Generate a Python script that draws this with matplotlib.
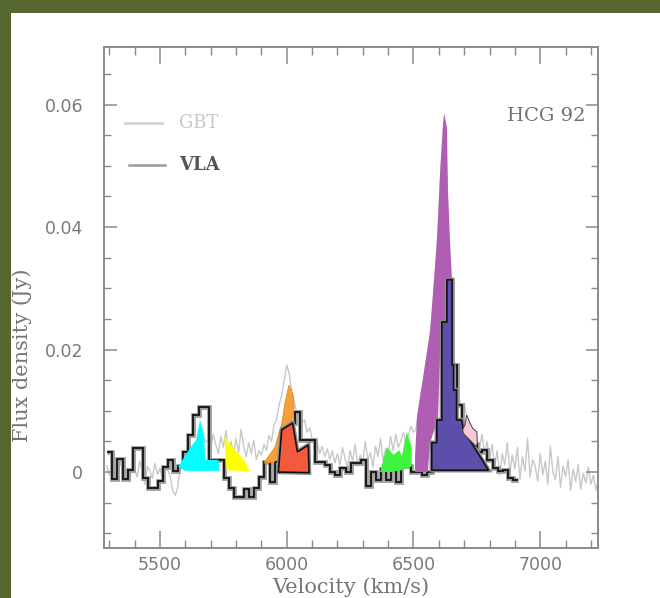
import numpy as np
import matplotlib
matplotlib.use("Agg")
import matplotlib.pyplot as plt
from matplotlib.patches import Rectangle
from matplotlib.ticker import MultipleLocator
import matplotlib.patheffects as pe

# ---------------- data ----------------
# GBT spectrum: 10 km/s sampling starting at 5290 km/s
gbt_v0, gbt_dv = 5290, 10
gbt_flux = [
    0.0010, -0.0005, 0.0015, 0.0002, -0.0012, 0.0008, 0.0020, -0.0003, 0.0006, -0.0015, 0.0012,
    0.0004, -0.0008, 0.0018, 0.0001, -0.0020, 0.0009, 0.0002, -0.0010, 0.0014, -0.0004,
    0.0006, -0.0012, 0.0010, 0.0003, -0.0006, -0.0030, -0.0038, -0.0025, 0.0012, 0.0008,
    0.0020, 0.0030, 0.0018, 0.0040, 0.0035, 0.0050, 0.0042, 0.0060, 0.0048, 0.0055,
    0.0038, 0.0062, 0.0045, 0.0030, 0.0058, 0.0040, 0.0068, 0.0035, 0.0050, 0.0028,
    0.0055, 0.0032, 0.0070, 0.0042, 0.0025, 0.0048, 0.0030, 0.0052, 0.0020, 0.0035,
    0.0028, 0.0045, 0.0035, 0.0060, 0.0050, 0.0078, 0.0085, 0.0110, 0.0125, 0.0150,
    0.0175, 0.0160, 0.0130, 0.0115, 0.0095, 0.0100, 0.0080, 0.0085, 0.0065, 0.0072,
    0.0055, 0.0040, 0.0048, 0.0030, 0.0042, 0.0025, 0.0038, 0.0020, 0.0035, 0.0015,
    0.0030, 0.0012, 0.0040, 0.0022, 0.0008, 0.0035, 0.0018, 0.0045, 0.0010, 0.0028,
    0.0015, 0.0050, 0.0020, 0.0032, 0.0008, 0.0042, 0.0025, 0.0055, 0.0018, 0.0038,
    0.0030, 0.0058, 0.0035, 0.0062, 0.0040, 0.0050, 0.0065, 0.0045, 0.0060, 0.0075,
    0.0065, 0.0070, 0.0100, 0.0130, 0.0150, 0.0180, 0.0210, 0.0240, 0.0290, 0.0350,
    0.0420, 0.0510, 0.0570, 0.0500, 0.0360, 0.0260, 0.0180, 0.0140, 0.0120, 0.0105,
    0.0112, 0.0090, 0.0080, 0.0065, 0.0055, 0.0048, 0.0035, 0.0062, 0.0030, 0.0050,
    0.0020, 0.0045, 0.0008, 0.0035, -0.0005, 0.0030, 0.0012, 0.0048, -0.0002, 0.0028,
    0.0005, 0.0040, -0.0012, 0.0025, 0.0002, 0.0055, -0.0008, 0.0020, 0.0010, -0.0015,
    0.0030, -0.0005, 0.0018, -0.0020, 0.0042, 0.0000, -0.0012, 0.0025, -0.0025, 0.0010,
    -0.0008, 0.0020, -0.0030, 0.0005, -0.0015, 0.0012, -0.0028, -0.0002, -0.0018, 0.0008,
    -0.0020, -0.0005, -0.0030, -0.0012,
]

# VLA spectrum: 20 km/s channels, first edge at 5292 km/s
vla_v0, vla_dv = 5292, 20
vla_flux = [
    0.0033, -0.0012, 0.0022, -0.0012, 0.0004, 0.0040, 0.0040, -0.0010, -0.0026, -0.0026,
    -0.0015, 0.0008, 0.0020, 0.0002, 0.0010, 0.0033, 0.0060, 0.0093, 0.0107, 0.0107,
    0.0020, 0.0020, 0.0020, -0.0010, -0.0026, -0.0040, -0.0040, -0.0028, -0.0040, -0.0026,
    -0.0008, 0.0016, -0.0016, 0.0016, 0.0025, 0.0060, 0.0080, 0.0098, 0.0052, 0.0052,
    0.0052, 0.0016, 0.0016, 0.0011, 0.0000, -0.0005, 0.0007, 0.0000, 0.0015, 0.0015,
    0.0020, -0.0022, 0.0000, -0.0013, 0.0005, -0.0013, 0.0010, -0.0016, 0.0023, 0.0010,
    0.0000, 0.0000, -0.0004, 0.0000, 0.0048, 0.0085, 0.0245, 0.0314, 0.0175, 0.0110,
    0.0075, 0.0060, 0.0045, 0.0032, 0.0036, 0.0020, 0.0006, 0.0002, 0.0004, -0.0010,
    -0.0013,
]

# coloured component regions (velocity, flux) vertices
cyan_v = [5572, 5618, 5642, 5658, 5674, 5678, 5730, 5734, 5599]
cyan_f = [0.0009, 0.0039, 0.0052, 0.0085, 0.0060, 0.0020, 0.0020, 0.0002, 0.0002]

yellow_v = [5754, 5762, 5855, 5835]
yellow_f = [0.0057, 0.0003, 0.0001, 0.0018]

orange_v = [5910, 5954, 5981, 5993, 6009, 6025, 6029, 6017, 5981, 5970, 5946]
orange_f = [0.0015, 0.0041, 0.0080, 0.0113, 0.0142, 0.0126, 0.0106, 0.0077, 0.0049, 0.0023, 0.0016]

red_v = [5967, 5980, 6023, 6042, 6085, 6088]
red_f = [0.0000, 0.0069, 0.0080, 0.0033, 0.0044, -0.0001]

green_v = [6368, 6395, 6421, 6444, 6454, 6473, 6493, 6493, 6454, 6408]
green_f = [0.0000, 0.0041, 0.0028, 0.0036, 0.0025, 0.0066, 0.0041, 0.0009, 0.0003, 0.0000]

purple_v = [6506, 6506, 6514, 6538, 6565, 6593, 6605, 6617, 6621, 6632, 6636, 6644, 6652,
            6640, 6609, 6597, 6565, 6557]
purple_f = [0.0000, 0.0024, 0.0090, 0.0155, 0.0227, 0.0379, 0.0488, 0.0570, 0.0586, 0.0563,
            0.0460, 0.0379, 0.0314, 0.0250, 0.0245, 0.0088, 0.0047, 0.0000]

blue_v = [6572, 6572, 6592, 6592, 6612, 6612, 6632, 6632, 6652, 6652, 6658, 6658, 6670,
          6670, 6690, 6697, 6796]
blue_f = [0.0003, 0.0048, 0.0048, 0.0085, 0.0085, 0.0245, 0.0245, 0.0314, 0.0314, 0.0175,
          0.0175, 0.0134, 0.0134, 0.0085, 0.0085, 0.0069, 0.0003]

pink_v = [6710, 6723, 6734, 6750, 6752, 6747, 6723, 6697, 6694, 6703]
pink_f = [0.0093, 0.0080, 0.0071, 0.0066, 0.0047, 0.0042, 0.0052, 0.0063, 0.0069, 0.0077]

x_ticks = [5500, 6000, 6500, 7000]
y_ticks = [0, 0.02, 0.04, 0.06]
y_ticklabels = ["0", "0.02", "0.04", "0.06"]

# ---------------- figure ----------------
W, H = 660, 598
fig = plt.figure(figsize=(W / 100, H / 100), dpi=100)
fig.patch.set_facecolor("#56662f")
fig.patches.append(Rectangle((11 / W, 0), 1 - 11 / W, 1 - 13 / H, transform=fig.transFigure,
                             facecolor="white", edgecolor="none", zorder=-5))

ax = fig.add_axes([104 / W, 1 - 548 / H, (598 - 104) / W, (548 - 47) / H])
ax.set_zorder(2)
ax.set_facecolor("white")

gbt_v = gbt_v0 + gbt_dv * np.arange(len(gbt_flux))
ax.plot(gbt_v, gbt_flux, color="#c8c8c8", lw=1.0, zorder=1)

vla_edges = vla_v0 + vla_dv * np.arange(len(vla_flux) + 1)
ax.stairs(vla_flux, vla_edges, baseline=None, color="#9a9a9a", lw=3.4, zorder=2)
ax.stairs(vla_flux, vla_edges, baseline=None, color="#111111", lw=1.3, zorder=2.1)

halo = [pe.withStroke(linewidth=3.2, foreground="#8a8a8a")]
ax.fill(cyan_v, cyan_f, color="#00ffff", lw=0, zorder=3)
ax.fill(yellow_v, yellow_f, color="#ffff00", lw=0, zorder=3)
ax.fill(orange_v, orange_f, facecolor="#f7a03a", edgecolor="#e88a20", lw=0.6, zorder=3)
p = ax.fill(red_v, red_f, facecolor="#f35a3c", edgecolor="#111111", lw=1.2, zorder=3.2)
for q in p:
    q.set_path_effects(halo)
ax.fill(green_v, green_f, color="#3ef23e", lw=0, zorder=3)
ax.fill(purple_v, purple_f, color="#b05db4", lw=0, zorder=3)
p = ax.fill(blue_v, blue_f, facecolor="#5b4fab", edgecolor="#111111", lw=1.2, zorder=3.3)
for q in p:
    q.set_path_effects(halo)
ax.fill(pink_v, pink_f, facecolor="#f8c8d4", edgecolor="#444444", lw=0.7, zorder=3.4)

ax.set_xlim(5279, 7228)
ax.set_ylim(-0.0124, 0.0694)
ax.set_xticks(x_ticks)
ax.set_xticklabels([str(t) for t in x_ticks])
ax.set_yticks(y_ticks)
ax.set_yticklabels(y_ticklabels)
ax.xaxis.set_minor_locator(MultipleLocator(100))
ax.yaxis.set_minor_locator(MultipleLocator(0.005))

gc = "#8a8a8a"
for s in ax.spines.values():
    s.set_color(gc)
    s.set_linewidth(1.4)
ax.tick_params(axis="x", which="major", direction="in", length=12, width=1.1, color=gc,
               top=True, bottom=True, pad=6, labelsize=12.5, labelcolor="#7a7a7a")
ax.tick_params(axis="x", which="minor", direction="in", length=6, width=1.0, color=gc,
               top=True, bottom=True)
ax.tick_params(axis="y", which="major", direction="in", length=9, width=1.1, color=gc,
               left=True, right=True, pad=15, labelsize=12.5, labelcolor="#7a7a7a")
ax.tick_params(axis="y", which="minor", direction="in", length=5, width=1.0, color=gc,
               left=True, right=True)
for lab in ax.get_xticklabels() + ax.get_yticklabels():
    lab.set_family("DejaVu Sans")

ax.set_xlabel("Velocity (km/s)", family="DejaVu Serif", fontsize=15, color="#757575")
ax.xaxis.set_label_coords(0.5, -0.058)
ax.set_ylabel("Flux density (Jy)", family="DejaVu Serif", fontsize=15, color="#757575")
ax.yaxis.set_label_coords(-0.145, 0.385)

# legend drawn by hand
ax.plot([0.043, 0.117], [0.848, 0.848], transform=ax.transAxes, color="#cfcfcf", lw=1.8)
ax.text(0.152, 0.848, "GBT", transform=ax.transAxes, family="DejaVu Serif", fontsize=13,
        color="#c8c8c8", va="center", ha="left")
ax.plot([0.05, 0.124], [0.764, 0.764], transform=ax.transAxes, color="#9a9a9a", lw=1.8)
ax.text(0.152, 0.764, "VLA", transform=ax.transAxes, family="DejaVu Serif", fontsize=13,
        color="#555555", va="center", ha="left", fontweight="bold")
ax.text(0.974, 0.862, "HCG 92", transform=ax.transAxes, family="DejaVu Serif", fontsize=14,
        color="#707070", va="center", ha="right")

fig.savefig("out.png", dpi=100)
